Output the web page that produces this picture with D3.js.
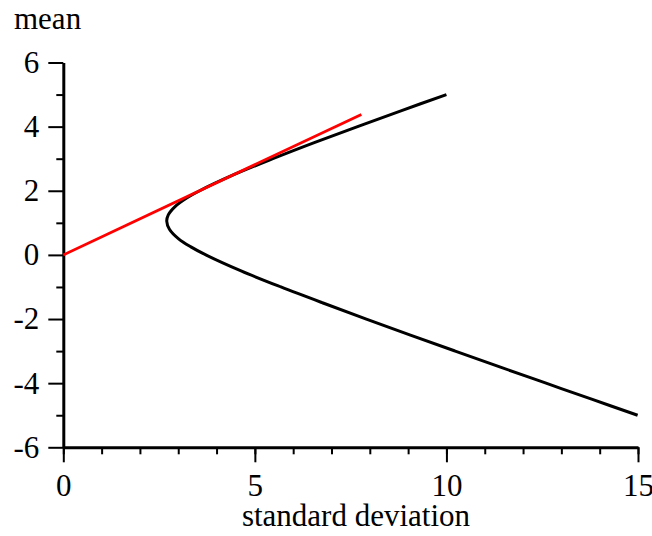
<!DOCTYPE html>
<html>
<head>
<meta charset="utf-8">
<script src="https://cdn.jsdelivr.net/npm/d3@7"></script>
<style>
  body { margin: 0; background: #fff; }
  text { font-family: "Liberation Serif", "Times New Roman", serif; }
</style>
</head>
<body>
<div id="chart"></div>
<script>
// frontier points (std dev, mean)
const frontierSd = [10.0, 8.83, 7.68, 6.55, 5.47, 4.45, 3.56, 3.19, 2.91, 2.74, 2.70, 2.77, 3.01, 3.33, 3.72, 4.64, 5.68, 6.78, 7.91, 9.06, 10.23, 11.41, 12.60, 13.79, 14.99];
const frontierMean = [5.0, 4.5, 4.0, 3.5, 3.0, 2.5, 2.0, 1.75, 1.5, 1.25, 1.05, 0.8, 0.5, 0.25, 0.0, -0.5, -1.0, -1.5, -2.0, -2.5, -3.0, -3.5, -4.0, -4.5, -5.0];

// tangent line from the origin
const tangentSd = [0, 7.78];
const tangentMean = [0, 4.38];

const xMajor = [0, 5, 10, 15];
const xMinor = d3.range(0, 16, 1);
const yMajor = [-6, -4, -2, 0, 2, 4, 6];
const yMinor = [-5, -3, -1, 1, 3, 5];

const drawChart = () => {
    const width = 652;
    const height = 536;

    const svg = d3.select('#chart').append('svg')
        .attr('width', width)
        .attr('height', height);

    const xScale = d3.scaleLinear()
        .domain([0, 15])
        .range([63.3, 638]);

    const yScale = d3.scaleLinear()
        .domain([-6, 6])
        .range([447.3, 62.5]);

    // minor ticks
    svg.append('g')
        .attr('transform', `translate(0, ${yScale(-6)})`)
        .call(d3.axisBottom(xScale).tickValues(xMinor).tickSize(7).tickSizeOuter(0).tickFormat(''))
        .call(g => g.select('.domain').remove());

    svg.append('g')
        .attr('transform', `translate(${xScale(0)}, 0)`)
        .call(d3.axisLeft(yScale).tickValues(yMinor).tickSize(7).tickSizeOuter(0).tickFormat(''))
        .call(g => g.select('.domain').remove());

    // major ticks with labels
    const xAxis = svg.append('g')
        .attr('transform', `translate(0, ${yScale(-6)})`)
        .call(d3.axisBottom(xScale).tickValues(xMajor).tickSize(15).tickSizeOuter(0).tickPadding(12));

    const yAxis = svg.append('g')
        .attr('transform', `translate(${xScale(0)}, 0)`)
        .call(d3.axisLeft(yScale).tickValues(yMajor).tickSize(15).tickSizeOuter(0).tickPadding(9)
            .tickFormat(d => d < 0 ? '-' + Math.abs(d) : d));

    [xAxis, yAxis].forEach(ax => {
        ax.select('.domain').attr('stroke-width', 3);
        ax.selectAll('text')
            .attr('font-family', '"Liberation Serif", serif')
            .attr('font-size', 31)
            .attr('fill', '#000');
    });

    svg.selectAll('.tick line')
        .attr('stroke', '#000')
        .attr('stroke-width', 2);

    const line = d3.line()
        .x(d => xScale(d[0]))
        .y(d => yScale(d[1]));

    svg.append('path')
        .datum(frontierSd.map((s, i) => [s, frontierMean[i]]))
        .attr('fill', 'none')
        .attr('stroke', '#000')
        .attr('stroke-width', 3)
        .attr('d', line.curve(d3.curveCatmullRom));

    svg.append('path')
        .datum(tangentSd.map((s, i) => [s, tangentMean[i]]))
        .attr('fill', 'none')
        .attr('stroke', '#ff0000')
        .attr('stroke-width', 2.8)
        .attr('d', line.curve(d3.curveLinear));

    // axis titles
    svg.append('text')
        .attr('x', 14)
        .attr('y', 29)
        .attr('font-size', 31)
        .text('mean');

    svg.append('text')
        .attr('x', 356)
        .attr('y', 526)
        .attr('text-anchor', 'middle')
        .attr('font-size', 31)
        .text('standard deviation');
};

drawChart();
</script>
</body>
</html>
